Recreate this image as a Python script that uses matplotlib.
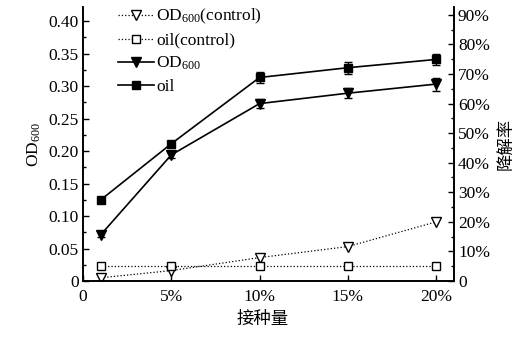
import numpy as np
import matplotlib
matplotlib.use('Agg')
import matplotlib.pyplot as plt

plt.rcParams['font.family'] = ['Liberation Serif', 'Noto Sans CJK SC']
plt.rcParams['mathtext.fontset'] = 'custom'
plt.rcParams['mathtext.rm'] = 'Liberation Serif'
plt.rcParams['mathtext.it'] = 'Liberation Serif'

# inoculum amount (%)
x = [1, 5, 10, 15, 20]
x_ticks = [0, 5, 10, 15, 20]
x_labels = ['0', '5%', '10%', '15%', '20%']

# OD600 (left axis)
od_control = [0.005, 0.016, 0.036, 0.053, 0.091]
od = [0.071, 0.194, 0.273, 0.289, 0.303]
od_err = [0.004, 0.004, 0.007, 0.008, 0.010]

# degradation rate, % (right axis)
oil_control = [5.0, 5.0, 5.0, 5.0, 5.0]
oil = [27.4, 46.4, 68.8, 72.1, 74.9]
oil_err = [1.0, 1.0, 1.8, 2.0, 2.0]

left_ticks = [0, 0.05, 0.10, 0.15, 0.20, 0.25, 0.30, 0.35, 0.40]
left_labels = ['0', '0.05', '0.10', '0.15', '0.20', '0.25', '0.30', '0.35', '0.40']
right_ticks = [0, 10, 20, 30, 40, 50, 60, 70, 80, 90]
right_labels = ['0'] + ['%d%%' % v for v in right_ticks[1:]]

fig = plt.figure(figsize=(5.32, 3.45), dpi=100)
ax = fig.add_axes([0.156, 0.1855, 0.697, 0.794])
ax2 = ax.twinx()

fs = 12.5
h1, = ax.plot(x, od_control, linestyle=':', color='black', lw=0.9, marker='v',
              markersize=7, markerfacecolor='white', markeredgecolor='black',
              label='OD$_{600}$(control)')
h2, = ax2.plot(x, oil_control, linestyle=':', color='black', lw=0.9, marker='s',
               markersize=5.5, markerfacecolor='white', markeredgecolor='black',
               label='oil(control)')
ax.errorbar(x, od, yerr=od_err, color='black', lw=1.2, marker='v', markersize=7.5,
            capsize=3, elinewidth=1, capthick=1)
h3, = ax.plot([], [], color='black', lw=1.2, marker='v', markersize=7.5, label='OD$_{600}$')
ax2.errorbar(x, oil, yerr=oil_err, color='black', lw=1.2, marker='s', markersize=6,
             capsize=3, elinewidth=1, capthick=1)
h4, = ax2.plot([], [], color='black', lw=1.2, marker='s', markersize=6, label='oil')

ax.set_xlim(0, 21)
ax.set_ylim(0, 0.4215)
ax2.set_ylim(0, 92.6)

ax.set_xticks(x_ticks)
ax.set_xticklabels(x_labels, fontsize=fs)
ax.set_yticks(left_ticks)
ax.set_yticklabels(left_labels, fontsize=fs)
ax.set_yticks(np.arange(0.025, 0.42, 0.05), minor=True)
ax2.set_yticks(right_ticks)
ax2.set_yticklabels(right_labels, fontsize=fs)
ax2.set_yticks(np.arange(5, 92, 10), minor=True)

for a in (ax, ax2):
    a.tick_params(which='major', direction='in', length=4, width=1, pad=3)
    a.tick_params(which='minor', direction='in', length=2.5, width=1)
    a.spines['top'].set_visible(False)
    for s in a.spines.values():
        s.set_linewidth(1.2)
ax.tick_params(axis='x', pad=6)

ax.set_xlabel('接种量', fontsize=fs, family=['Noto Sans CJK SC'])
ax.xaxis.set_label_coords(0.483, -0.105, transform=ax.transAxes)
ax.xaxis.label.set_va('top')
ax.set_ylabel('OD$_{600}$', fontsize=fs, labelpad=4)
ax2.set_ylabel('降解率', fontsize=fs, family=['Noto Sans CJK SC'], labelpad=5)

ax2.legend(handles=[h1, h2, h3, h4], loc='upper left', bbox_to_anchor=(0.075, 1.025),
           frameon=False, fontsize=fs, handlelength=2.1, handletextpad=0.1,
           labelspacing=0.36, borderaxespad=0)

fig.savefig('out.png', dpi=100)
